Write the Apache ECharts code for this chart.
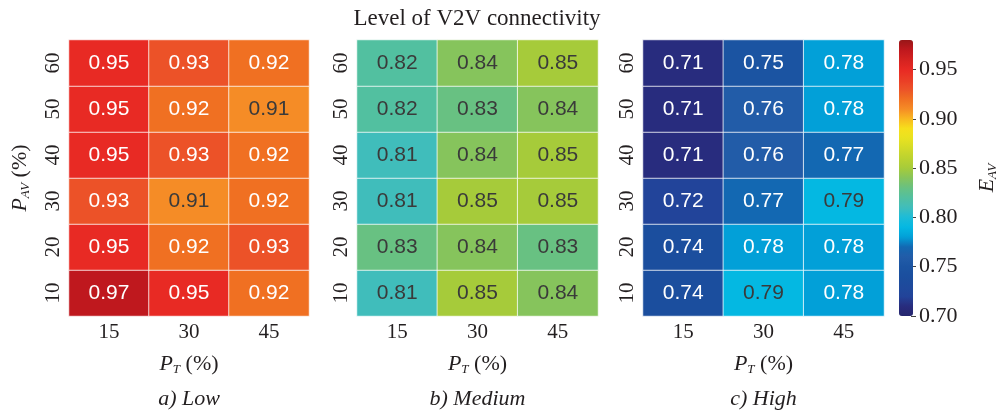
<!DOCTYPE html>
<html>
<head>
<meta charset="utf-8">
<script src="https://cdn.jsdelivr.net/npm/echarts@6/dist/echarts.min.js"></script>
<style>
  html, body { margin: 0; padding: 0; background: #fff; }
  #chart { width: 1000px; height: 412px; }
</style>
</head>
<body>
<div id="chart"></div>
<script>
// P_T categories (x) and P_AV categories (y, bottom to top)
const ptLabels = ['15', '30', '45'];
const pavLabels = ['10', '20', '30', '40', '50', '60'];

// E_AV per P_AV row (10 … 60), columns P_T = 15, 30, 45
const lowValues = [
  [0.97, 0.95, 0.92],
  [0.95, 0.92, 0.93],
  [0.93, 0.91, 0.92],
  [0.95, 0.93, 0.92],
  [0.95, 0.92, 0.91],
  [0.95, 0.93, 0.92]
];
const mediumValues = [
  [0.81, 0.85, 0.84],
  [0.83, 0.84, 0.83],
  [0.81, 0.85, 0.85],
  [0.81, 0.84, 0.85],
  [0.82, 0.83, 0.84],
  [0.82, 0.84, 0.85]
];
const highValues = [
  [0.74, 0.79, 0.78],
  [0.74, 0.78, 0.78],
  [0.72, 0.77, 0.79],
  [0.71, 0.76, 0.77],
  [0.71, 0.76, 0.78],
  [0.71, 0.75, 0.78]
];
const panelTitles = ['a) Low', 'b) Medium', 'c) High'];
const colorbarTicks = [0.70, 0.75, 0.80, 0.85, 0.90, 0.95];
const scaleMin = 0.70;
const scaleMax = 0.98;

// colour ramp, one stop per 0.01 from scaleMin to scaleMax
const palette = [
  '#25266e', '#282c7e', '#22449a', '#1e4a9c', '#1b4e9e', '#1b54a2', '#225ca8', '#1368b2',
  '#02a0d8', '#04b8e2', '#1cbcd8', '#40bdbb', '#52c0a0', '#68c182', '#86c45c', '#a6cb3a',
  '#bcd230', '#d2da28', '#e8e220', '#f6e01c', '#f8b820', '#f58c26', '#f07022', '#ec5228',
  '#ea3c26', '#e82a24', '#d42220', '#bf181e', '#981618'
];

const SERIF = '"Liberation Serif", "Times New Roman", serif';
const SANS = '"Liberation Sans", Arial, sans-serif';
const INK = '#231f20';

const panels = [
  { values: lowValues, left: 69, width: 240 },
  { values: mediumValues, left: 357, width: 241 },
  { values: highValues, left: 643, width: 241 }
];
const gridTop = 40, gridHeight = 276;

function cells(values) {
  const out = [];
  values.forEach((row, yi) => {
    row.forEach((v, xi) => {
      const dark = v > 0.785 && v < 0.915;
      out.push({ value: [xi, yi, v], label: { color: dark ? '#3a3a3a' : '#ffffff' } });
    });
  });
  return out;
}

const subRich = {
  i: { fontFamily: SERIF, fontStyle: 'italic', fontSize: 22, color: INK, lineHeight: 24 },
  s: { fontFamily: SERIF, fontStyle: 'italic', fontSize: 13, color: INK, lineHeight: 4, verticalAlign: 'bottom' },
  n: { fontFamily: SERIF, fontSize: 22, color: INK, lineHeight: 24 }
};

const grids = panels.map(p => ({ left: p.left, width: p.width, top: gridTop, height: gridHeight }));
grids.push({ left: 899, width: 14, top: gridTop, height: gridHeight });

const xAxes = panels.map((p, k) => ({
  type: 'category', gridIndex: k, data: ptLabels,
  axisLine: { show: false }, axisTick: { show: false },
  axisLabel: { fontFamily: SERIF, fontSize: 21, color: INK, margin: 6 },
  name: '{i|P}{s|T}{n| (%)}', nameLocation: 'middle', nameGap: 36,
  nameTextStyle: { rich: subRich }
}));
xAxes.push({ type: 'category', gridIndex: 3, data: [''], show: false });

const yAxes = panels.map((p, k) => ({
  type: 'category', gridIndex: k, data: pavLabels,
  axisLine: { show: false }, axisTick: { show: false },
  axisLabel: { fontFamily: SERIF, fontSize: 21, color: INK, rotate: 90, margin: 5 },
  name: k === 0 ? '{i|P}{s|AV}{n| (%)}' : '', nameLocation: 'middle', nameGap: 37,
  nameTextStyle: { rich: subRich }
}));
yAxes.push({
  type: 'value', gridIndex: 3, position: 'right', min: scaleMin, max: scaleMax,
  splitLine: { show: false }, axisLine: { show: false },
  axisTick: { show: true, length: 5, lineStyle: { color: '#444' }, customValues: colorbarTicks },
  axisLabel: {
    fontFamily: SERIF, fontSize: 22, color: INK, margin: 8,
    customValues: colorbarTicks, formatter: v => v.toFixed(2)
  },
  name: '{i|E}{s|AV}', nameLocation: 'middle', nameGap: 64, nameRotate: 90,
  nameTextStyle: { rich: subRich }
});

const series = panels.map((p, k) => ({
  type: 'heatmap', xAxisIndex: k, yAxisIndex: k,
  data: cells(p.values),
  itemStyle: { borderColor: 'rgba(255,255,255,0.75)', borderWidth: 1 },
  label: { show: true, fontFamily: SANS, fontSize: 21, formatter: d => d.value[2].toFixed(2) },
  emphasis: { disabled: true }
}));

const graphics = [{
  type: 'text', x: 477, y: 19,
  style: { text: 'Level of V2V connectivity', fontFamily: SERIF, fontSize: 23, fill: INK,
           textAlign: 'center', textVerticalAlign: 'middle' }
}];
panels.forEach((p, k) => {
  graphics.push({
    type: 'text', x: p.left + p.width / 2, y: 399,
    style: { text: panelTitles[k], fontFamily: SERIF, fontStyle: 'italic', fontSize: 22, fill: INK,
             textAlign: 'center', textVerticalAlign: 'middle' }
  });
});

const chart = echarts.init(document.getElementById('chart'), null, { renderer: 'canvas' });
chart.setOption({
  animation: false,
  backgroundColor: '#ffffff',
  grid: grids,
  xAxis: xAxes,
  yAxis: yAxes,
  visualMap: {
    type: 'continuous', min: scaleMin, max: scaleMax, seriesIndex: [0, 1, 2],
    orient: 'vertical', left: 899, top: gridTop, itemWidth: 14, itemHeight: gridHeight,
    padding: 0, calculable: false, hoverLink: false, text: null, showLabel: false,
    inRange: { color: palette }
  },
  series: series,
  graphic: graphics
});
</script>
</body>
</html>
